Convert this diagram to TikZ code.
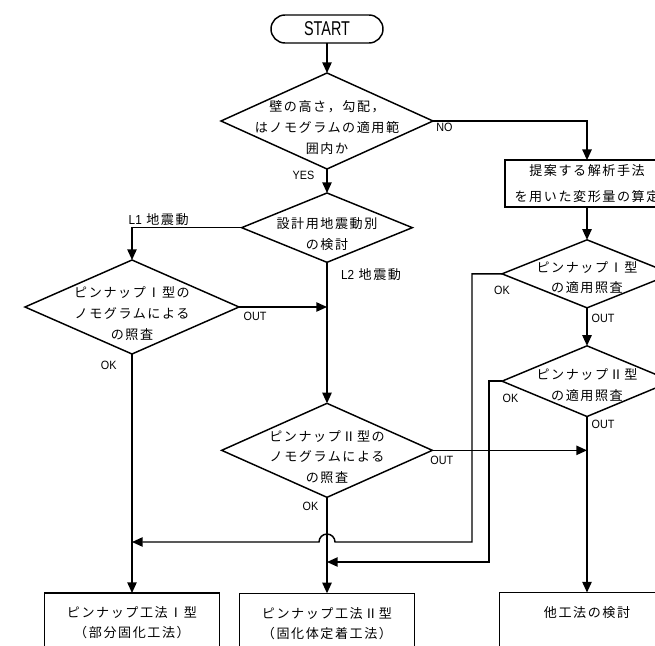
\documentclass[tikz,border=0pt]{standalone}
\usepackage{fontspec}
\usepackage{tikz}
\usetikzlibrary{shapes,arrows.meta,positioning,calc}

\newfontfamily\jpfont[LetterSpace=12]{Noto Sans CJK JP}
\newfontfamily\latfont[FakeStretch=0.9]{Liberation Sans}
\newfontfamily\startfont[FakeStretch=0.72]{Liberation Sans}
\newcommand{\droptext}[1]{\rule{0pt}{#1}}

\begin{document}
\begin{tikzpicture}[
    x=0.75pt, y=-0.75pt,
    every node/.style={font=\jpfont\fontsize{9.8pt}{15.5pt}\selectfont},
    % Node styles
    terminal/.style={rectangle, rounded corners=10.5pt, draw, line width=1.1pt, outer sep=0pt,
        minimum width=84pt, minimum height=21pt, font=\startfont\fontsize{15pt}{15pt}\selectfont},
    decision/.style={diamond, draw, line width=1.1pt, outer sep=0pt, shape aspect=2.2,
        inner sep=-20pt, align=center},
    process/.style={rectangle, draw, line width=1.1pt, outer sep=0pt, align=center},
    result/.style={process, minimum width=131pt, minimum height=45pt,
        font=\jpfont\fontsize{9.8pt}{15pt}\selectfont},
    % Arrow and label styles
    arrow/.style={->, >={Triangle[length=8pt,width=7pt]}, line width=1.1pt},
    tag/.style={font=\latfont\fontsize{9pt}{9pt}\selectfont, inner sep=1pt},
    quake/.style={inner sep=1pt}
]
    \useasboundingbox (0,0) rectangle (655,645);
    \clip (0,0) rectangle (655,645);

    % Centre column
    \node[terminal] (start) at (327,29) {START};
    \node[decision, minimum width=159pt, minimum height=72pt, below=22.5pt of start] (range)
        {\droptext{18pt}壁の高さ，勾配，\\はノモグラムの適用範\\囲内か};
    \node[decision, minimum width=128pt, minimum height=52pt, below=18pt of range] (design)
        {\droptext{18pt}設計用地震動別\\の検討};
    \node[decision, minimum width=158pt, minimum height=70.5pt, below=105.75pt of design] (nomoII)
        {\droptext{18pt}ピンナップⅡ型の\\ノモグラムによる\\の照査};
    \node[result, below=72pt of nomoII] (methodII) {ピンナップ工法Ⅱ型\\（固化体定着工法）};

    % Left column
    \node[decision, minimum width=160.5pt, minimum height=70.5pt] (nomoI) at (132,307)
        {\droptext{18pt}ピンナップⅠ型の\\ノモグラムによる\\の照査};
    \node[result, below=179.25pt of nomoI] (methodI) {ピンナップ工法Ⅰ型\\（部分固化工法）};

    % Right column
    \node[process, minimum width=123pt, minimum height=35pt,
        font=\jpfont\fontsize{9.8pt}{19pt}\selectfont] (fem) at (587,183.5)
        {提案する解析手法\\を用いた変形量の算定};
    \node[decision, minimum width=127.5pt, minimum height=51pt, below=24.75pt of fem] (applyI)
        {\droptext{14pt}ピンナップⅠ型\\の適用照査};
    \node[decision, minimum width=127.5pt, minimum height=53pt, below=28.5pt of applyI] (applyII)
        {\droptext{14pt}ピンナップⅡ型\\の適用照査};
    \node[result, below=132pt of applyII] (other) {他工法の検討\\\mbox{}};

    % Main flow
    \draw[arrow] (start) -- (range);
    \draw[arrow] (range) -- (design) node[tag, pos=0, anchor=north east, xshift=-8pt] {YES};
    \draw[arrow] (range.east) -| (fem.north) node[tag, pos=0, anchor=north west, xshift=1pt] {NO};
    \draw[arrow] (design.west) -| (nomoI.north)
        node[quake, pos=0.5, anchor=south west, xshift=-4pt] {{\latfont L1} 地震動};
    \draw[arrow] (design) -- (nomoII)
        node[quake, pos=0, anchor=north west, xshift=9pt, yshift=-3pt] {{\latfont L2} 地震動};

    % Nomogram checks
    \draw[arrow] (nomoI.east) -- (nomoI.east -| design.south)
        node[tag, pos=0, anchor=north west, xshift=2pt, yshift=-2pt] {OUT};
    \draw[arrow] (nomoI) -- (methodI) node[tag, pos=0, anchor=north east, xshift=-10pt, yshift=-4pt] {OK};
    \draw[arrow] (nomoII) -- (methodII) node[tag, pos=0, anchor=north east, xshift=-5pt, yshift=-2pt] {OK};
    \draw[arrow] (nomoII.east) -- (nomoII.east -| applyII.south)
        node[tag, pos=0, anchor=north west, xshift=-3pt, yshift=-3pt] {OUT};

    % Applicability checks
    \draw[arrow] (fem) -- (applyI);
    \draw[arrow] (applyI) -- (applyII) node[tag, pos=0, anchor=north west, xshift=2pt, yshift=-3pt] {OUT};
    \draw[arrow] (applyII) -- (other) node[tag, pos=0, anchor=north west, xshift=2pt, yshift=-1pt] {OUT};

    % OK returns
    \coordinate (busI) at (472,542);
    \coordinate (busII) at (489,562);
    \draw[arrow] (applyI.west) node[tag, anchor=north, yshift=-8pt] {OK} -| (busI)
        -- ($(busI -| nomoII.south)+(8,0)$) arc[start angle=0, end angle=-180, radius=8]
        -- (busI -| nomoI.south);
    \draw[arrow] (applyII.west) node[tag, anchor=north west, xshift=-1pt, yshift=-8pt] {OK} -| (busII)
        -- (busII -| nomoII.south);
\end{tikzpicture}
\end{document}
